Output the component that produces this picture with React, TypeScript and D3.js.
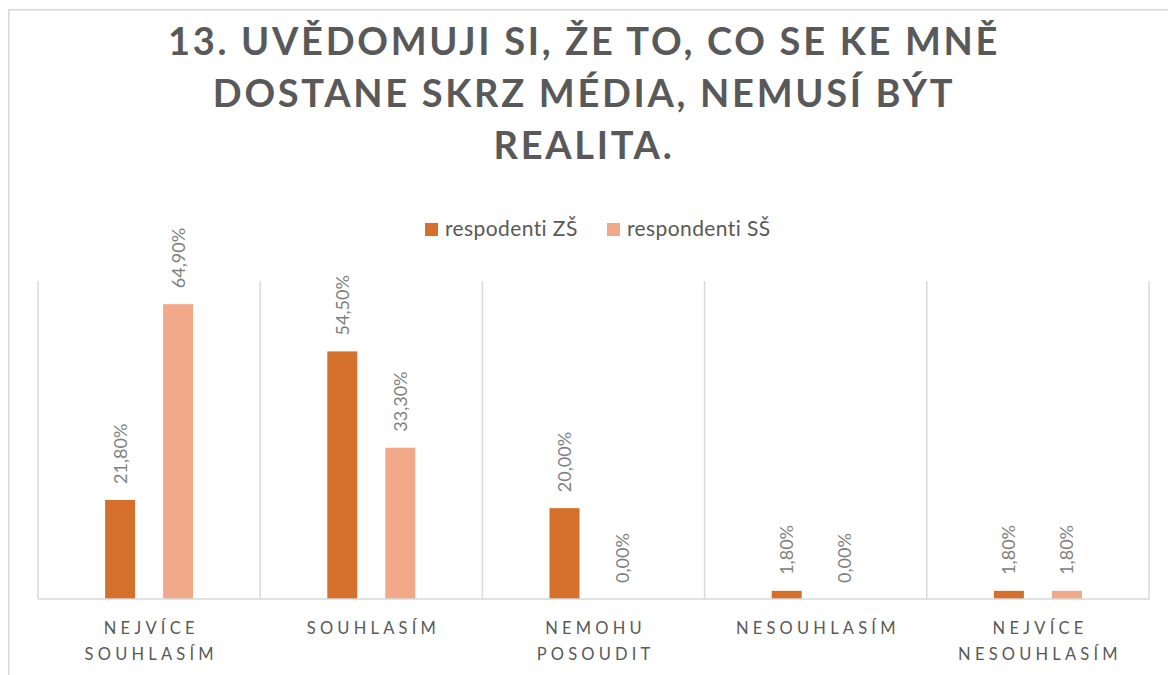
import React, { useRef, useEffect } from "react";
import * as d3 from "d3";

/* chart data */
const titleLines = [
  "13. UVĚDOMUJI SI, ŽE TO, CO SE KE MNĚ",
  "DOSTANE SKRZ MÉDIA, NEMUSÍ BÝT",
  "REALITA.",
];
const categories = [
  "NEJVÍCE SOUHLASÍM",
  "SOUHLASÍM",
  "NEMOHU POSOUDIT",
  "NESOUHLASÍM",
  "NEJVÍCE NESOUHLASÍM",
];
const seriesNames = ["respodenti ZŠ", "respondenti SŠ"];
const valuesZS = [0.218, 0.545, 0.2, 0.018, 0.018];
const valuesSS = [0.649, 0.333, 0.0, 0.0, 0.018];
const seriesColors = ["#D4702B", "#F1A98A"];
const yMax = 0.7;

const FONT = "Lato, 'Open Sans', sans-serif";

const czLocale = d3.formatLocale({
  decimal: ",",
  thousands: " ",
  grouping: [3],
  currency: ["", " Kč"],
});
const fmtPct = czLocale.format(".2%");

const App = () => {
  const svgRef = useRef<SVGSVGElement | null>(null);

  const drawChart = () => {
    const svg = d3.select(svgRef.current);
    svg.selectAll("*").remove();

    const margin = { left: 38, right: 1149, top: 281, bottom: 599 };

    /* outer chart border (only left and top visible in the crop) */
    svg
      .append("rect")
      .attr("x", 8.75)
      .attr("y", 9.75)
      .attr("width", 1300)
      .attr("height", 800)
      .attr("fill", "#fff")
      .attr("stroke", "#d9d9d9")
      .attr("stroke-width", 1.5);

    /* title */
    svg
      .append("g")
      .selectAll("text")
      .data(titleLines)
      .enter()
      .append("text")
      .attr("x", 584)
      .attr("y", (d, i) => 55 + i * 52)
      .attr("text-anchor", "middle")
      .style("font-family", FONT)
      .style("font-size", "38px")
      .style("font-weight", "700")
      .style("letter-spacing", "2.7px")
      .attr("fill", "#595959")
      .text((d) => d);

    /* legend */
    const legendX = [425, 607];
    const legend = svg
      .append("g")
      .selectAll("g")
      .data(seriesNames)
      .enter()
      .append("g")
      .attr("transform", (d, i) => `translate(${legendX[i]}, 223)`);
    legend
      .append("rect")
      .attr("width", 13)
      .attr("height", 13)
      .attr("fill", (d, i) => seriesColors[i]);
    legend
      .append("text")
      .attr("x", 20)
      .attr("y", 12.5)
      .style("font-family", FONT)
      .style("font-size", "21px")
      .style("letter-spacing", "0.4px")
      .attr("fill", "#595959")
      .text((d) => d);

    /* scales */
    const xScale = d3
      .scaleBand()
      .domain(categories)
      .range([margin.left, margin.right])
      .padding(0);

    const xSub = d3
      .scaleBand()
      .domain(seriesNames)
      .range([0, xScale.bandwidth()])
      .paddingInner(0.483)
      .paddingOuter(1.157);

    const yScale = d3
      .scaleLinear()
      .domain([0, yMax])
      .range([margin.bottom, margin.top]);

    /* vertical gridlines at category boundaries */
    const bounds = categories.map((c) => xScale(c)).concat([margin.right]);
    svg
      .append("g")
      .selectAll("line")
      .data(bounds)
      .enter()
      .append("line")
      .attr("x1", (d) => d)
      .attr("x2", (d) => d)
      .attr("y1", yScale(yMax))
      .attr("y2", yScale(0))
      .attr("stroke", "#d9d9d9")
      .attr("stroke-width", 1.5);

    /* bars */
    const rows = categories.flatMap((c, i) => [
      { cat: c, series: seriesNames[0], value: valuesZS[i], color: seriesColors[0] },
      { cat: c, series: seriesNames[1], value: valuesSS[i], color: seriesColors[1] },
    ]);

    svg
      .append("g")
      .selectAll("rect")
      .data(rows)
      .enter()
      .append("rect")
      .attr("x", (d) => xScale(d.cat) + xSub(d.series))
      .attr("y", (d) => yScale(d.value))
      .attr("width", xSub.bandwidth())
      .attr("height", (d) => yScale(0) - yScale(d.value))
      .attr("fill", (d) => d.color);

    /* baseline (category axis) */
    svg
      .append("line")
      .attr("x1", margin.left)
      .attr("x2", margin.right + 1)
      .attr("y1", yScale(0))
      .attr("y2", yScale(0))
      .attr("stroke", "#d9d9d9")
      .attr("stroke-width", 1.5);

    /* rotated data labels */
    svg
      .append("g")
      .selectAll("text")
      .data(rows)
      .enter()
      .append("text")
      .attr(
        "transform",
        (d) =>
          `translate(${xScale(d.cat) + xSub(d.series) + xSub.bandwidth() / 2}, ${
            yScale(d.value) - 16
          }) rotate(-90)`
      )
      .attr("dy", "0.36em")
      .attr("text-anchor", "start")
      .style("font-family", FONT)
      .style("font-size", "18px")
      .attr("fill", "#808080")
      .text((d) => fmtPct(d.value));

    /* category labels */
    const catLabels = svg
      .append("g")
      .selectAll("text")
      .data(categories)
      .enter()
      .append("text")
      .attr("text-anchor", "middle")
      .style("font-family", FONT)
      .style("font-size", "16.5px")
      .style("letter-spacing", "4.2px")
      .attr("fill", "#595959");
    catLabels
      .selectAll("tspan")
      .data((d) => d.split(" ").map((w) => ({ w, c: d })))
      .enter()
      .append("tspan")
      .attr("x", (d) => xScale(d.c) + xScale.bandwidth() / 2 + 2.1)
      .attr("y", (d, i) => 633.5 + i * 26.7)
      .text((d) => d.w);
  };

  useEffect(() => {
    drawChart();
  }, []);

  return (
    <svg
      ref={svgRef}
      width={1168}
      height={675}
      style={{ position: "absolute", left: 0, top: 0 }}
    ></svg>
  );
};

export default App;
